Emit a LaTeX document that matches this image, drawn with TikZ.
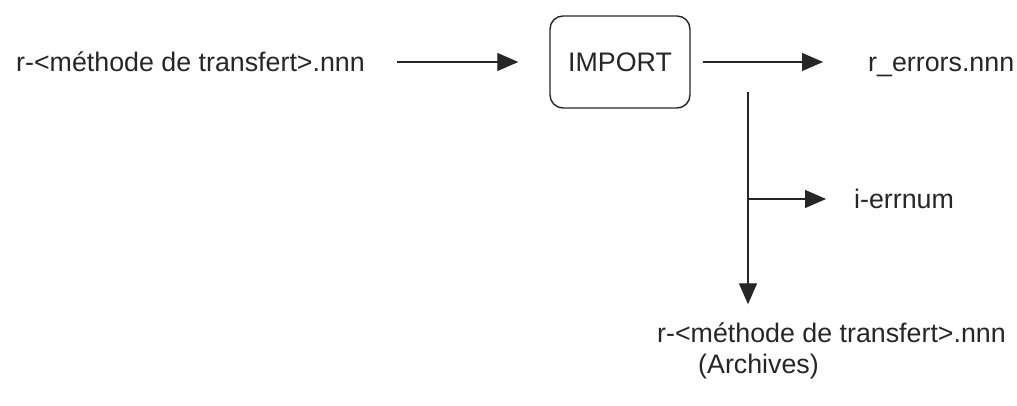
\documentclass[tikz,border=0pt]{standalone}
\usepackage{fontspec}
\setmainfont{Liberation Sans}
\usetikzlibrary{arrows.meta, positioning}
\tikzstyle{arrow} = [line width=1.3pt, draw=black!85, -{Triangle[length=21pt,width=18pt]}]
\tikzstyle{file} = [inner sep=0pt, text height=19pt, text depth=0pt, font=\fontsize{26.8}{32}\selectfont, text=black!85]
\tikzstyle{process} = [file, draw=black!85, line width=1.4pt, rounded corners=13pt, minimum width=140pt, minimum height=92pt]

\begin{document}
\begin{tikzpicture}[x=1pt, y=1pt]
   \useasboundingbox (0,0) rectangle (1017,406);

   % Input file and the import step
   \node[file, anchor=west] (src) at (16,344) {r-<méthode de transfert>.nnn};
   \node[process] (import) at (620,344) {IMPORT};

   % Output files
   \node[file, anchor=west] (errors) at (868,344) {r\_errors.nnn};
   \node[file, anchor=west] (errnum) at (854,207) {i-errnum};
   \node[file, anchor=west] (arch) at (657,73) {r-<méthode de transfert>.nnn};
   \node[file, below right=12pt and 41pt of arch.south west] (archlabel) {(Archives)};

   % Start of the vertical branch
   \coordinate (split) at (748,314);

   % Flows
   \draw[arrow, shorten <=32pt, shorten >=31pt] (src) -- (import);
   \draw[arrow, shorten <=12pt, shorten >=45pt] (import) -- (errors);
   \draw[arrow, shorten >=19pt] (split) -- (split |- arch.north);
   \draw[arrow, shorten >=28pt] (split |- errnum.west) -- (errnum.west);

\end{tikzpicture}
\end{document}
